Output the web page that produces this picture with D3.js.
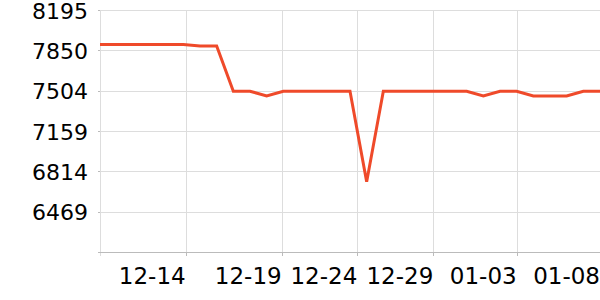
<!DOCTYPE html>
<html><head><meta charset="utf-8">
<script src="https://cdn.jsdelivr.net/npm/d3@7"></script>
<style>body{margin:0;background:#fff}svg{display:block}text{font-family:"DejaVu Sans",sans-serif;fill:#000}</style>
</head><body><div id="c"></div>
<script>
// Series values, one per sample (index 0..30)
const values = [7900,7900,7900,7900,7900,7900,7887,7887,7500,7500,7460,7500,7500,7500,7500,7500,
  6725,7500,7500,7500,7500,7500,7500,7460,7500,7500,7460,7460,7460,7500,7500];
// Y axis ticks
const yTicks = [6124,6469,6814,7159,7504,7850,8195];
const yTickLabels = ["","6469","6814","7159","7504","7850","8195"];
// X axis tick labels and their sample-index positions
const xTickLabels = ["12-14","12-19","12-24","12-29","01-03","01-08"];
const xTickIndex = [5.14,10.9,15.44,20,25,30];

const W=600,H=300, m={l:100,r:0,t:10,b:48};
const svg=d3.select("#c").append("svg").attr("width",W).attr("height",H);
const x=d3.scaleLinear().domain([0,values.length-1]).range([m.l,W-m.r]);
const y=d3.scaleLinear().domain([6124,8195]).range([H-m.b,m.t]);

const g=svg.append("g");
// horizontal grid
g.selectAll("line.hg").data(yTicks).join("line")
 .attr("x1",m.l).attr("x2",W).attr("y1",d=>Math.round(y(d))+0.5).attr("y2",d=>Math.round(y(d))+0.5)
 .attr("stroke","#dddddd").attr("stroke-width",1);
// vertical grid
g.selectAll("line.vg").data(xTickIndex).join("line")
 .attr("x1",d=>Math.round(x(d))+0.5).attr("x2",d=>Math.round(x(d))+0.5).attr("y1",m.t).attr("y2",H-m.b)
 .attr("stroke","#dddddd").attr("stroke-width",1);
// left axis line
g.append("line").attr("x1",m.l+0.5).attr("x2",m.l+0.5).attr("y1",m.t).attr("y2",H-m.b+4).attr("stroke","#dddddd");
// bottom axis
g.append("line").attr("x1",m.l).attr("x2",W).attr("y1",H-m.b+0.5).attr("y2",H-m.b+0.5).attr("stroke","#bbbbbb");
// y tick marks
g.selectAll("line.yt").data(yTicks).join("line")
 .attr("x1",m.l-2).attr("x2",m.l).attr("y1",d=>Math.round(y(d))+0.5).attr("y2",d=>Math.round(y(d))+0.5).attr("stroke","#bbbbbb");
// x tick marks
g.selectAll("line.xt").data(xTickIndex).join("line")
 .attr("x1",d=>Math.round(x(d))+0.5).attr("x2",d=>Math.round(x(d))+0.5).attr("y1",H-m.b).attr("y2",H-m.b+4).attr("stroke","#bbbbbb");
// y labels
g.selectAll("text.yl").data(yTicks).join("text")
 .attr("x",88).attr("y",d=>y(d)+8.5).attr("text-anchor","end").attr("font-size",22)
 .text((d,i)=>yTickLabels[i]);
// x labels
g.selectAll("text.xl").data(xTickIndex).join("text")
 .attr("x",d=>x(d)).attr("y",283.5).attr("text-anchor","end").attr("font-size",23)
 .text((d,i)=>xTickLabels[i]);
// line
svg.append("path").datum(values)
 .attr("d",d3.line().x((d,i)=>x(i)).y(d=>y(d)))
 .attr("fill","none").attr("stroke","#ef4a2a").attr("stroke-width",3).attr("stroke-linejoin","miter");
</script></body></html>
